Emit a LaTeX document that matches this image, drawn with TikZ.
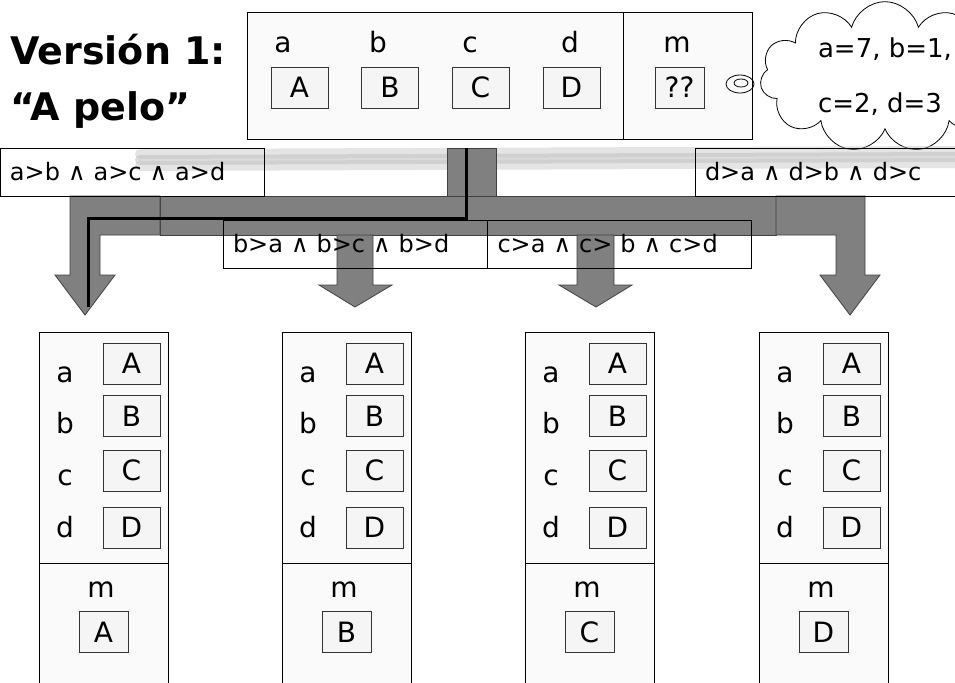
\documentclass[tikz,border=0pt]{standalone}
\usepackage{fontspec}
\setmainfont{DejaVu Sans}
\usetikzlibrary{shapes.symbols,positioning}
\definecolor{ink}{RGB}{0,0,0}
\definecolor{paper}{RGB}{250,250,250}
\definecolor{slotfill}{RGB}{245,245,245}
\definecolor{flowgray}{RGB}{128,128,128}
\definecolor{smear}{RGB}{195,195,195}
\tikzset{
  panel/.style={draw=ink,fill=paper},
  slot/.style={draw=ink!80,fill=slotfill,minimum width=28.5pt,minimum height=20.5pt,
    inner sep=0pt,font=\fontsize{14}{16}\selectfont},
  var/.style={inner sep=0pt,font=\fontsize{14}{16}\selectfont},
  cond/.style={draw=ink,inner xsep=5pt,inner ysep=0pt,text width=122pt,minimum height=24pt,
    align=left,font=\fontsize{12}{14}\selectfont},
  flow/.style={draw=ink!75,fill=flowgray,line join=miter},
  route/.style={line width=1.5pt,ink,line join=miter},
  heading/.style={font=\fontsize{19}{21}\selectfont\bfseries,anchor=west,inner sep=0pt}
}
\begin{document}
\begin{tikzpicture}[x=0.5pt,y=-0.5pt]
  \useasboundingbox (0,0) rectangle (955,682);
  % title
  \node[heading] (ver) at (10,50) {Versión 1:};
  \node[heading] (pelo) at (10,110) {“A pelo”};
  % memory before the test
  \node[panel,minimum width=252.5pt,minimum height=63.5pt] (mem) at (499.5,75.5) {};
  \draw[ink] (623,12) -- (623,139);
  \foreach \v/\V/\lx/\sx in {a/A/283/299.5,b/B/378/390,c/C/470/480.5,d/D/570/571.5} {
    \node[var,anchor=base] (l\v) at (\lx,52) {\v};
    \node[slot] (s\v) at (\sx,87.5) {\V};
  }
  \node[var,anchor=base] (lm) at (677,52) {m};
  \node[slot,minimum width=24.5pt,font=\fontsize{14}{16}\rmfamily\selectfont] (sm) at (679.5,87.5) {??};
  % thought
  \draw[ink] (740,84) ellipse [x radius=7pt,y radius=4.5pt];
  \draw[ink] (741,83) ellipse [x radius=3.5pt,y radius=2pt];
  \node[cloud,draw=ink,fill=white,cloud puffs=11,aspect=1.9,minimum width=125pt,minimum height=67pt,
    align=left,inner sep=0pt,font=\fontsize{13}{27.5}\selectfont] (think) at (885,77) {a=7, b=1,\\c=2, d=3};
  % smear
  \foreach \dy/\op in {-6/0.45,0/0.6,6/0.45}
    \draw[smear,line width=5pt,opacity=\op,line cap=round] (140,{160+\dy}) -- (955,{157+\dy});
  % gray flow
  \draw[flow] (447,148) rectangle (496,196);
  \draw[flow] (160,196) rectangle (776,235);
  \draw[flow] (160,196) -- (70,196) -- (70,275) -- (55,275) -- (85,315) -- (115,275) -- (100,275) -- (100,235) -- (160,235) -- cycle;
  \draw[flow] (776,196) -- (865,196) -- (865,275) -- (880,275) -- (850,315) -- (820,275) -- (836,275) -- (836,235) -- (776,235) -- cycle;
  \draw[flow] (337,235) -- (337,285) -- (319,285) -- (355,307) -- (392,285) -- (373,285) -- (373,235) -- cycle;
  \draw[flow] (577,235) -- (577,285) -- (559,285) -- (596,307) -- (632,285) -- (614,285) -- (614,235) -- cycle;
  % conditions
  \node[cond] (ca) at (132,172) {a>b ∧ a>c ∧ a>d};
  \node[cond] (cd) at (827,172) {d>a ∧ d>b ∧ d>c};
  \node[cond] (cb) at (355,244) {b>a ∧ b>c ∧ b>d};
  \node[cond] (cc) at (619.5,244) {c>a ∧ c> b ∧ c>d};
  % taken path
  \coordinate (src) at (466,148);
  \coordinate (dst) at (88,307);
  \draw[route] (src) |- (88,218) -- (dst);
  % results
  \foreach \n/\L/\M in {1/39/A,2/282/B,3/525/C,4/759/D} {
    \draw[panel] (\L,690) -- (\L,332) -- ({\L+129},332) -- ({\L+129},690);
    \draw[ink] (\L,563) -- ({\L+129},563);
    \foreach \v/\V/\y/\b in {a/A/363.5/382,b/B/416/433,c/C/470.5/485,d/D/527.5/537} {
      \node[var,anchor=base] (\v\n) at ({\L+26},\b) {\v};
      \node[slot] (\V\n) at ({\L+92.5},\y) {\V};
    }
    \node[var,anchor=base] (m\n) at ({\L+62},597) {m};
    \node[slot,minimum width=24.5pt] (res\n) at ({\L+64.5},632) {\M};
  }
\end{tikzpicture}
\end{document}
